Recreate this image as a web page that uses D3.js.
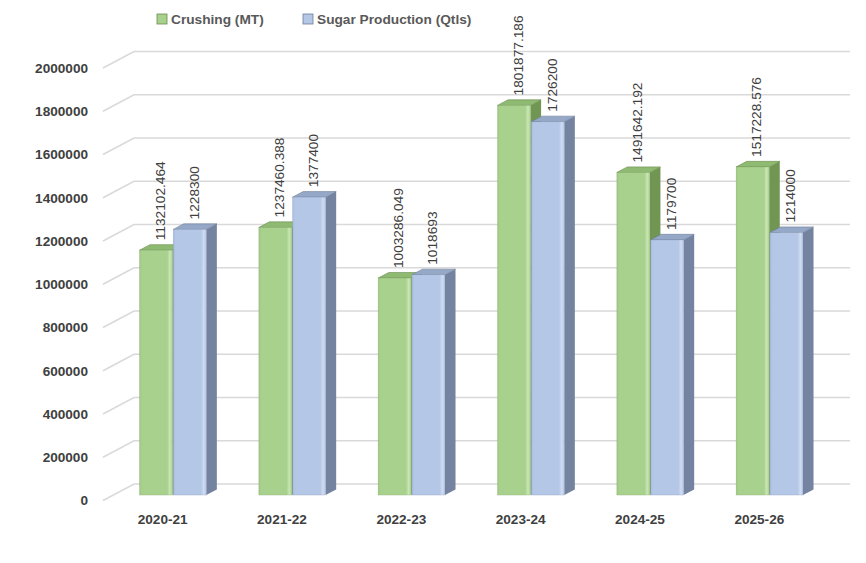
<!DOCTYPE html>
<html>
<head>
<meta charset="utf-8">
<script src="https://cdn.jsdelivr.net/npm/d3@7"></script>
<style>
    body { margin: 0; background: #ffffff; }
    text { font-family: 'Liberation Sans', Arial, sans-serif; }
</style>
</head>
<body>
<svg id="chart"></svg>
<script>
const seasons = ['2020-21', '2021-22', '2022-23', '2023-24', '2024-25', '2025-26'];
const crushing = [1132102.464, 1237460.388, 1003286.049, 1801877.186, 1491642.192, 1517228.576];
const sugar = [1228300, 1377400, 1018693, 1726200, 1179700, 1214000];
const crushingLabels = ['1132102.464', '1237460.388', '1003286.049', '1801877.186', '1491642.192', '1517228.576'];
const sugarLabels = ['1228300', '1377400', '1018693', '1726200', '1179700', '1214000'];
const seriesNames = ['Crushing (MT)', 'Sugar Production (Qtls)'];
const yTicks = [0, 200000, 400000, 600000, 800000, 1000000, 1200000, 1400000, 1600000, 1800000, 2000000];

class Bar3DChart {
    constructor (config) {
        this.config = {
            parent: config.parent,
            width: config.width || 866,
            height: config.height || 563,
            // depth of the floor/wall, in pixels
            depth: config.depth || {dx: 31, dy: -16.5},
            zFront: 0.33,
            zBack: 0.67
        };
        this.init();
    }

    init() {
        let self = this;

        self.svg = d3.select(self.config.parent)
            .attr('width', self.config.width)
            .attr('height', self.config.height);

        self.x = d3.scaleBand()
            .domain(seasons)
            .range([103, 819])
            .paddingInner(0.44)
            .paddingOuter(0.22);

        self.x1 = d3.scaleBand()
            .domain([0, 1])
            .range([0, self.x.bandwidth()])
            .paddingInner(0.02);

        self.y = d3.scaleLinear()
            .domain([0, 2000000])
            .range([500.5, 68]);

        let defs = self.svg.append('defs');
        self.makeGradient(defs, 'gFront0', '#9fc883', '#a9d18e', '#c9e6b5');
        self.makeGradient(defs, 'gFront1', '#a9bddf', '#b4c7e7', '#d0dcf1');

        self.styles = [
            {front: 'url(#gFront0)', side: '#719553', top: '#8fba72', edge: '#6a8c4e'},
            {front: 'url(#gFront1)', side: '#7483a0', top: '#95a8c8', edge: '#6e7d98'}
        ];
    }

    makeGradient(defs, id, c0, c1, c2) {
        let g = defs.append('linearGradient')
            .attr('id', id)
            .attr('x1', '0%').attr('x2', '100%')
            .attr('y1', '0%').attr('y2', '0%');
        g.append('stop').attr('offset', '0%').attr('stop-color', c0);
        g.append('stop').attr('offset', '8%').attr('stop-color', c1);
        g.append('stop').attr('offset', '84%').attr('stop-color', c1);
        g.append('stop').attr('offset', '92%').attr('stop-color', c2);
        g.append('stop').attr('offset', '100%').attr('stop-color', c1);
    }

    render() {
        let self = this;
        let d = self.config.depth;
        let left = self.x.range()[0];
        let right = self.x.range()[1];

        // walls
        let grid = self.svg.append('g')
            .attr('stroke', '#d9d9d9')
            .attr('stroke-width', 1.5)
            .attr('fill', 'none');

        grid.selectAll('.wall')
            .data(yTicks)
            .enter()
            .append('polyline')
            .attr('points', t => {
                let yy = self.y(t);
                return `${left},${yy} ${left + d.dx},${yy + d.dy} ${right + d.dx},${yy + d.dy}`;
            });

        // y axis labels
        self.svg.append('g')
            .selectAll('text')
            .data(yTicks)
            .enter()
            .append('text')
            .attr('x', 88)
            .attr('y', t => self.y(t))
            .attr('dy', '0.35em')
            .attr('text-anchor', 'end')
            .attr('fill', '#404040')
            .style('font-size', '13.6px')
            .style('font-weight', 'bold')
            .text(t => t);

        // category labels
        self.svg.append('g')
            .selectAll('text')
            .data(seasons)
            .enter()
            .append('text')
            .attr('x', s => self.x(s) + self.x.bandwidth() / 2)
            .attr('y', 519)
            .attr('dy', '0.35em')
            .attr('text-anchor', 'middle')
            .attr('fill', '#404040')
            .style('font-size', '13.6px')
            .style('font-weight', 'bold')
            .text(s => s);

        // bars, drawn left to right so nearer faces cover the ones behind
        let bars = [];
        seasons.forEach((s, i) => {
            bars.push({season: s, series: 0, value: crushing[i], label: crushingLabels[i]});
            bars.push({season: s, series: 1, value: sugar[i], label: sugarLabels[i]});
        });

        let fx = d.dx * self.config.zFront, fy = d.dy * self.config.zFront;
        let bx = d.dx * self.config.zBack, by = d.dy * self.config.zBack;
        let ox = bx - fx, oy = by - fy;

        let g = self.svg.append('g');
        bars.forEach(b => {
            let st = self.styles[b.series];
            let x0 = self.x(b.season) + self.x1(b.series) + fx;
            let w = self.x1.bandwidth();
            let y0 = self.y(0) + fy;
            let y1 = self.y(b.value) + fy;
            let bar = g.append('g');

            bar.append('path')
                .attr('d', `M${x0 + w},${y1} L${x0 + w + ox},${y1 + oy} L${x0 + w + ox},${y0 + oy} L${x0 + w},${y0} Z`)
                .attr('fill', st.side);

            bar.append('path')
                .attr('d', `M${x0},${y1} L${x0 + ox},${y1 + oy} L${x0 + w + ox},${y1 + oy} L${x0 + w},${y1} Z`)
                .attr('fill', st.top)
                .attr('stroke', st.edge)
                .attr('stroke-width', 0.6)
                .attr('stroke-linejoin', 'round');

            bar.append('rect')
                .attr('x', x0)
                .attr('y', y1)
                .attr('width', w)
                .attr('height', y0 - y1)
                .attr('fill', st.front)
                .attr('stroke', st.edge)
                .attr('stroke-opacity', 0.35)
                .attr('stroke-width', 0.6);

            // value label
            bar.append('text')
                .attr('transform', `translate(${x0 + w / 2 + 4}, ${y1 - 10}) rotate(-90)`)
                .attr('dy', '0.35em')
                .attr('fill', '#404040')
                .style('font-size', '13.7px')
                .text(b.label);
        });

        // legend
        let legendX = [157, 303];
        let legend = self.svg.append('g')
            .selectAll('g')
            .data(seriesNames)
            .enter()
            .append('g')
            .attr('transform', (n, i) => `translate(${legendX[i]}, 14)`);

        legend.append('rect')
            .attr('width', 10)
            .attr('height', 10)
            .attr('fill', (n, i) => i == 0 ? '#a9d18e' : '#b4c7e7')
            .attr('stroke', (n, i) => self.styles[i].edge)
            .attr('stroke-width', 0.8);

        legend.append('text')
            .attr('x', 14)
            .attr('y', 5)
            .attr('dy', '0.35em')
            .attr('fill', '#595959')
            .style('font-size', '13.7px')
            .style('font-weight', 'bold')
            .text(n => n);
    }
}

let chart = new Bar3DChart({parent: '#chart', width: 866, height: 563});
chart.render();
</script>
</body>
</html>
